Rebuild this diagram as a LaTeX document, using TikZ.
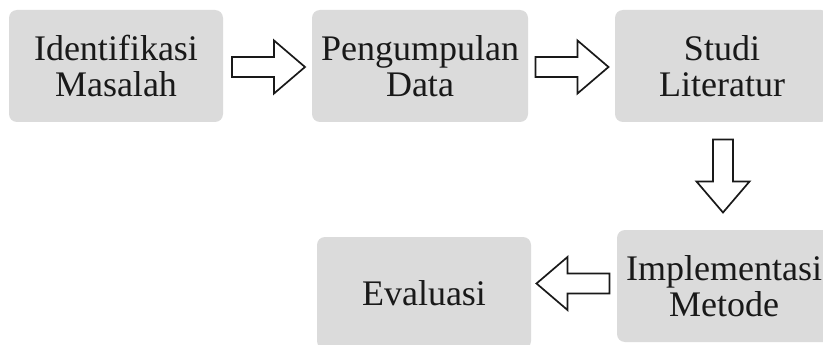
\documentclass[tikz,border=0pt]{standalone}
\usepackage{fontspec}
\setmainfont{Liberation Serif}
\usetikzlibrary{calc}
\definecolor{boxgray}{RGB}{219,219,219}
\definecolor{txt}{RGB}{25,25,25}
\tikzset{
  stepbox/.style={fill=boxgray, draw=none, rounded corners=8pt, minimum width=214pt, minimum height=112pt,
    inner sep=0pt, align=center, text=txt, font=\fontsize{36}{36}\selectfont},
  arrowline/.style={draw=black!90, line width=1.7pt, fill=white, line join=miter},
  blockarrow/.pic={\path[arrowline] (-36.5,-10) -- (5.5,-10) -- (5.5,-26.5) -- (36.5,0) -- (5.5,26.5) -- (5.5,10) -- (-36.5,10) -- cycle;}
}
\begin{document}
\begin{tikzpicture}[x=1pt,y=-1pt]
\useasboundingbox (0,0) rectangle (823,345);
\fill[white] (0,0) rectangle (823,345);
\node[stepbox] (b1) at (116,66) {Identifikasi\\Masalah};
\node[stepbox, minimum width=216pt] (b2) at (420,66) {Pengumpulan\\Data};
\node[stepbox] (b3) at (722,66) {Studi\\Literatur};
\node[stepbox] (b5) at (724,286) {Implementasi\\Metode};
\node[stepbox] (b4) at (424,293) {Evaluasi};
\coordinate (a1) at ($(b1.east)!0.5!(b2.west)+(1,1)$);
\coordinate (a2) at ($(b2.east)!0.5!(b3.west)+(0.5,1)$);
\coordinate (a3) at ($(b3.south)!0.5!(b5.north)$);
\coordinate (a4) at ($(b4.east)!0.5!(b5.west)+(-1,-6)$);
\pic at (a1) {blockarrow};
\pic at (a2) {blockarrow};
\pic[rotate=-90] at (a3) {blockarrow};
\pic[rotate=180] at (a4) {blockarrow};
\end{tikzpicture}
\end{document}
